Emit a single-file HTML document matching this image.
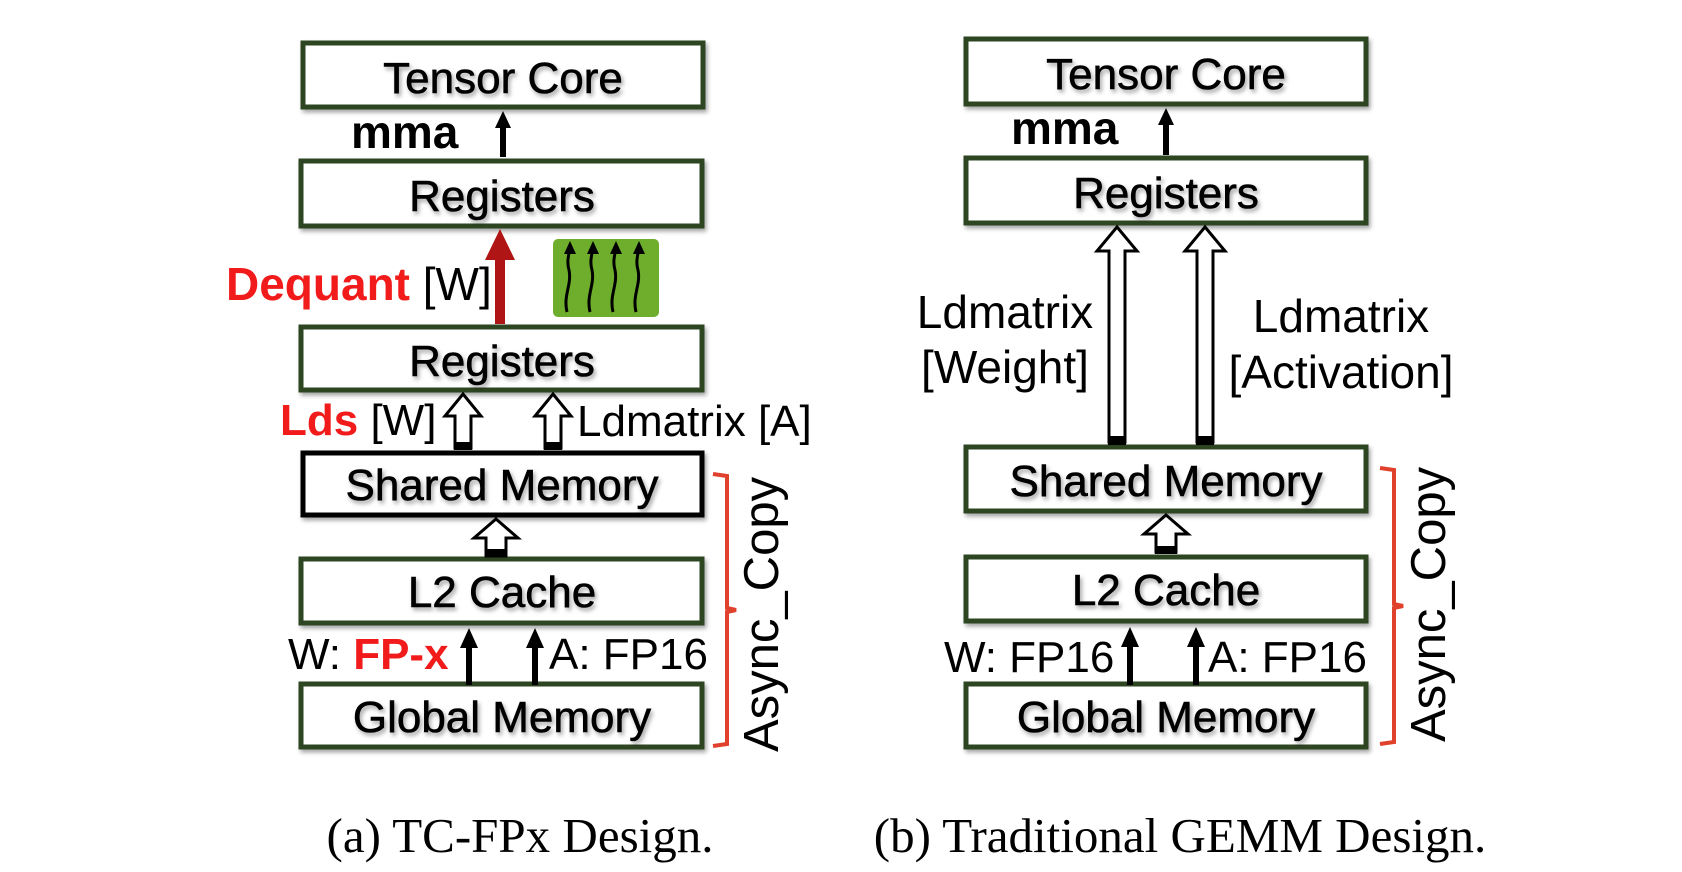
<!DOCTYPE html>
<html><head><meta charset="utf-8"><style>
html,body{margin:0;padding:0;background:#fff}
svg{display:block}
.box{fill:#fff;stroke:#2f4424;stroke-width:5}
.bt{font-family:"Liberation Sans",sans-serif;font-size:44px;fill:#000;text-anchor:middle;stroke:#000;stroke-width:0.6}
.lab{font-family:"Liberation Sans",sans-serif;font-size:44px;fill:#000}
.cap{font-family:"Liberation Serif",serif;font-size:49px;fill:#000;text-anchor:middle}
.ho{fill:#fff;stroke:#000;stroke-width:3;stroke-linejoin:miter}
</style></head><body>
<svg width="1682" height="872" viewBox="0 0 1682 872" xmlns="http://www.w3.org/2000/svg">
<defs>
<filter id="sh" x="-10%" y="-10%" width="120%" height="130%"><feDropShadow dx="2" dy="3" stdDeviation="2" flood-color="#000" flood-opacity="0.35"/></filter>
</defs>

<!-- LEFT -->
<g filter="url(#sh)">
<rect class="box" x="303" y="43" width="400" height="64"/>
<rect class="box" x="301" y="161" width="401" height="65"/>
<rect class="box" x="301" y="327" width="401" height="63"/>
<rect class="box" x="303" y="453" width="399" height="62" style="stroke:#000"/>
<rect class="box" x="301" y="559" width="401" height="64"/>
<rect class="box" x="301" y="684" width="401" height="63"/>
</g>
<g filter="url(#sh)">
<text class="bt" x="503" y="93">Tensor Core</text>
<text class="bt" x="502" y="211">Registers</text>
<text class="bt" x="502" y="376">Registers</text>
<text class="bt" x="502" y="500">Shared Memory</text>
<text class="bt" x="502" y="607">L2 Cache</text>
<text class="bt" x="502" y="732">Global Memory</text>
</g>
<text class="lab" x="351" y="148" style="font-weight:bold;font-size:46px">mma</text>
<polygon points="503,111 511,128 506,128 506,157 500,157 500,128 495,128" fill="#000"/>
<!-- red arrow -->
<polygon points="500,229 515,260 505,260 505,324 495,324 495,260 485,260" fill="#b01515"/>
<text class="lab" x="226" y="300" style="font-size:46px"><tspan fill="#f21b1b" font-weight="bold">Dequant</tspan> [W]</text>
<!-- green box -->
<rect x="553" y="239" width="106" height="78" rx="5" fill="#6fae2c"/>
<g fill="none" stroke="#000" stroke-width="3">
<path d="M567,312 C563,295 572,285 569,270 C566,260 570,252 570,246"/>
<path d="M590,312 C586,295 595,285 592,270 C589,260 593,252 593,246"/>
<path d="M613,312 C609,295 618,285 615,270 C612,260 616,252 616,246"/>
<path d="M636,312 C632,295 641,285 638,270 C635,260 639,252 639,246"/>
</g>
<g fill="#000">
<polygon points="570,241 576,254 564,254"/><polygon points="593,241 599,254 587,254"/>
<polygon points="616,241 622,254 610,254"/><polygon points="639,241 645,254 633,254"/>
</g>
<!-- hollow arrows left -->
<polygon class="ho" points="463,394 481,416 471,416 471,448 455,448 455,416 445,416"/>
<rect x="454" y="442" width="18" height="8" fill="#000"/>
<polygon class="ho" points="553,394 571,416 561,416 561,448 545,448 545,416 535,416"/>
<rect x="544" y="442" width="18" height="8" fill="#000"/>
<text class="lab" x="280" y="435"><tspan fill="#f21b1b" font-weight="bold">Lds</tspan> [W]</text>
<text class="lab" x="577" y="436">Ldmatrix [A]</text>
<polygon class="ho" points="496,519 518,538 506,538 506,556 486,556 486,538 474,538"/>
<rect x="485" y="549" width="22" height="8" fill="#000"/>
<!-- small arrows -->
<polygon points="469,628 478,648 472,648 472,685 466,685 466,648 460,648" fill="#000"/>
<polygon points="535,628 544,648 538,648 538,685 532,685 532,648 526,648" fill="#000"/>
<text class="lab" x="288" y="669">W: <tspan fill="#f21b1b" font-weight="bold">FP-x</tspan></text>
<text class="lab" x="549" y="669">A: FP16</text>
<!-- bracket -->
<path d="M713,474 L727,476 L727,608 L736,610 L727,612 L727,744 L713,746" fill="none" stroke="#e0412c" stroke-width="4"/>
<text class="lab" transform="translate(778,752) rotate(-90)" style="font-size:49px">Async_Copy</text>
<text class="cap" x="520" y="852">(a) TC-FPx Design.</text>

<!-- RIGHT -->
<g transform="translate(-7,0)">
<g filter="url(#sh)">
<rect class="box" x="973" y="39" width="400" height="65"/>
<rect class="box" x="973" y="158" width="400" height="65"/>
<rect class="box" x="973" y="447" width="400" height="64"/>
<rect class="box" x="973" y="557" width="400" height="64"/>
<rect class="box" x="973" y="684" width="400" height="63"/>
</g>
<g filter="url(#sh)">
<text class="bt" x="1173" y="89">Tensor Core</text>
<text class="bt" x="1173" y="208">Registers</text>
<text class="bt" x="1173" y="496">Shared Memory</text>
<text class="bt" x="1173" y="605">L2 Cache</text>
<text class="bt" x="1173" y="732">Global Memory</text>
</g>
<text class="lab" x="1018" y="144" style="font-weight:bold;font-size:46px">mma</text>
<polygon points="1173,108 1181,125 1176,125 1176,155 1170,155 1170,125 1165,125" fill="#000"/>
<polygon class="ho" points="1124,227 1144,251 1132,251 1132,442 1116,442 1116,251 1104,251"/>
<rect x="1115" y="436" width="18" height="9" fill="#000"/>
<polygon class="ho" points="1212,227 1232,251 1220,251 1220,442 1204,442 1204,251 1192,251"/>
<rect x="1203" y="436" width="18" height="9" fill="#000"/>
<text class="lab" x="1012" y="328" text-anchor="middle" style="font-size:46px">Ldmatrix</text>
<text class="lab" x="1012" y="383" text-anchor="middle" style="font-size:46px">[Weight]</text>
<text class="lab" x="1348" y="332" text-anchor="middle" style="font-size:46px">Ldmatrix</text>
<text class="lab" x="1348" y="388" text-anchor="middle" style="font-size:46px">[Activation]</text>
<polygon class="ho" points="1173,515 1195,534 1183,534 1183,552 1163,552 1163,534 1151,534"/>
<rect x="1162" y="546" width="22" height="8" fill="#000"/>
<polygon points="1137,627 1146,647 1140,647 1140,685 1134,685 1134,647 1128,647" fill="#000"/>
<polygon points="1203,627 1212,647 1206,647 1206,685 1200,685 1200,647 1194,647" fill="#000"/>
<text class="lab" x="951" y="672">W: FP16</text>
<text class="lab" x="1215" y="672">A: FP16</text>
<path d="M1387,468 L1401,470 L1401,604 L1410,606 L1401,608 L1401,742 L1387,744" fill="none" stroke="#e0412c" stroke-width="4"/>
<text class="lab" transform="translate(1452,742) rotate(-90)" style="font-size:49px">Async_Copy</text>
</g>
<text class="cap" x="1180" y="852">(b) Traditional GEMM Design.</text>
</svg>
</body></html>
